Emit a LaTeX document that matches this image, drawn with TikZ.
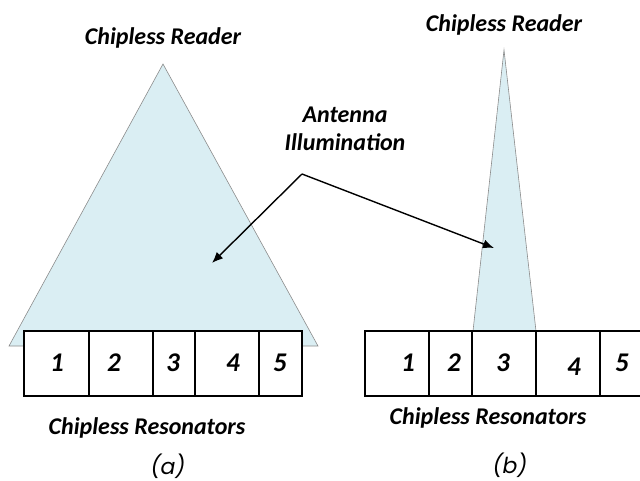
\documentclass[tikz,border=0pt]{standalone}
\usepackage{fontspec}
\usetikzlibrary{arrows.meta}
\setmainfont{Carlito}
\newfontfamily\capfont{Poppins}
\definecolor{beam}{HTML}{DAEEF3}
\definecolor{beamedge}{HTML}{8C8C8C}
\begin{document}
\begin{tikzpicture}[x=1pt,y=-1pt,
  lbl/.style={font=\fontsize{24}{28}\selectfont\bfseries\itshape, inner sep=0pt, align=center},
  num/.style={font=\fontsize{27}{28}\selectfont\bfseries\itshape, inner sep=0pt},
  subcap/.style={font=\fontsize{22}{24}\capfont\itshape, inner sep=0pt},
  cell/.style={draw=black, line width=1.3pt, fill=white},
  beamshape/.style={fill=beam, draw=beamedge, line width=0.6pt},
  pointer/.style={draw=black, line width=1.4pt, -{Latex[length=11pt,width=9pt]}}]
\useasboundingbox (0,0) rectangle (640,481);
% (a)
\path[beamshape] (163,64) -- (9,346) -- (318,346) -- cycle;
\foreach \xa/\xb in {24/89,89/153,153/195,195/259,259/302}{
  \path[cell] (\xa,331) rectangle (\xb,396);
}
\node[num] (a1) at (57,363) {1};
\node[num] (a2) at (114,363) {2};
\node[num] (a3) at (173,363) {3};
\node[num] (a4) at (233,363) {4};
\node[num] (a5) at (280,363) {5};
\node[lbl] (readerA) at (163,38) {Chipless Reader};
\node[lbl] (resA) at (147,428) {Chipless Resonators};
\node[subcap] (capA) at (168,466) {(a)};
% (b)
\path[beamshape] (504,50) -- (473,331) -- (536,331) -- cycle;
\foreach \xa/\xb in {365/429,429/472,472/536,536/600,600/645}{
  \path[cell] (\xa,331) rectangle (\xb,396);
}
\node[num] (b1) at (408,363) {1};
\node[num] (b2) at (454,363) {2};
\node[num] (b3) at (503,363) {3};
\node[num] (b4) at (574,367) {4};
\node[num] (b5) at (622,363) {5};
\node[lbl] (readerB) at (504,25) {Chipless Reader};
\node[lbl] (resB) at (488,418) {Chipless Resonators};
\node[subcap] (capB) at (510,465) {(b)};
% annotation
\node[lbl] (ant) at (345,129) {Antenna\\Illumination};
\coordinate (knee) at (302,174);
\coordinate (tipA) at (212,263);
\coordinate (tipB) at (494,248);
\draw[pointer] (knee) -- (tipA);
\draw[pointer] (knee) -- (tipB);
\end{tikzpicture}
\end{document}
